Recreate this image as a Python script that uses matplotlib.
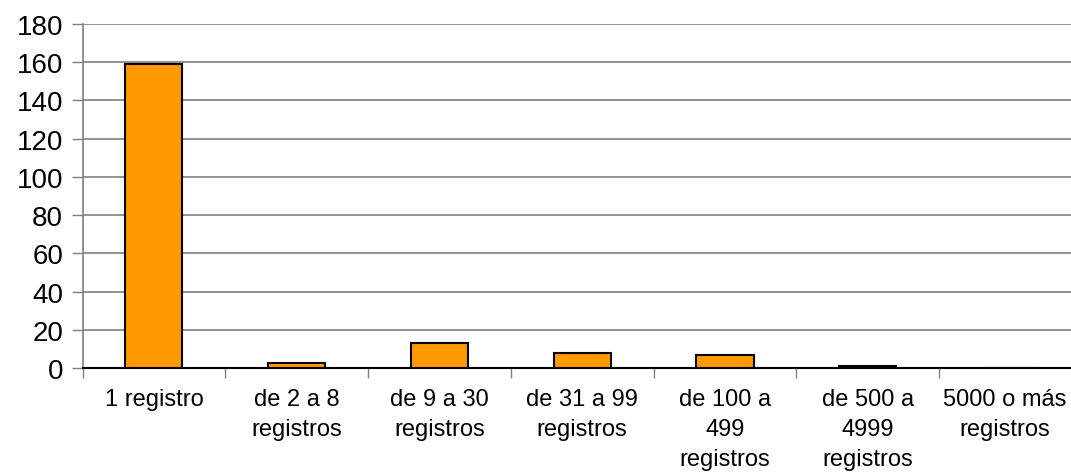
import matplotlib
matplotlib.use("Agg")
import matplotlib.pyplot as plt
import matplotlib.transforms as mtransforms
import numpy as np

categories = ["1 registro", "de 2 a 8\nregistros", "de 9 a 30\nregistros",
              "de 31 a 99\nregistros", "de 100 a\n499\nregistros",
              "de 500 a\n4999\nregistros", "5000 o más\nregistros"]
values = [159, 3, 13, 8, 7, 1, 0]
yticks = [0, 20, 40, 60, 80, 100, 120, 140, 160, 180]

plt.rcParams['font.family'] = ['Liberation Sans', 'DejaVu Sans']

fig = plt.figure(figsize=(10.71, 4.77), dpi=100)
W, H = 1071, 477
left, right, top, bottom = 82.5, 1082, 24.7, 369.3
ax = fig.add_axes([left / W, 1 - bottom / H, (right - left) / W, (bottom - top) / H])

x = np.arange(len(categories))
ax.bar(x, values, width=0.4, color="#FF9900", edgecolor="black", linewidth=1.5, zorder=3)

ax.set_xlim(-0.5, len(categories) - 0.5)
ax.set_ylim(0, 180)
ax.set_yticks(yticks)
ax.set_yticklabels([str(v) for v in yticks], fontsize=20)
ax.yaxis.grid(True, color="#808080", linewidth=1.2, zorder=0)
ax.set_axisbelow(True)

ax.set_xticks(np.arange(-0.5, len(categories), 1.0))
ax.set_xticklabels([])
ax.set_xticks(x, minor=True)
ax.set_xticklabels(categories, minor=True, fontsize=17, linespacing=1.48)
ax.tick_params(axis='x', which='minor', length=0, pad=14)
ax.tick_params(axis='x', which='major', length=7, width=1, color="#808080")
ax.tick_params(axis='y', length=8, width=1, color="#808080", pad=6)

# nudge the last label slightly left so it stays inside the figure
last = ax.get_xticklabels(minor=True)[-1]
last.set_transform(last.get_transform() + mtransforms.ScaledTranslation(-6 / 100, 0, fig.dpi_scale_trans))

for s in ["top", "right"]:
    ax.spines[s].set_visible(False)
ax.spines["left"].set_color("#808080")
ax.spines["left"].set_linewidth(1.2)
ax.spines["bottom"].set_color("black")
ax.spines["bottom"].set_linewidth(1.5)

fig.savefig("out.png", dpi=100)
